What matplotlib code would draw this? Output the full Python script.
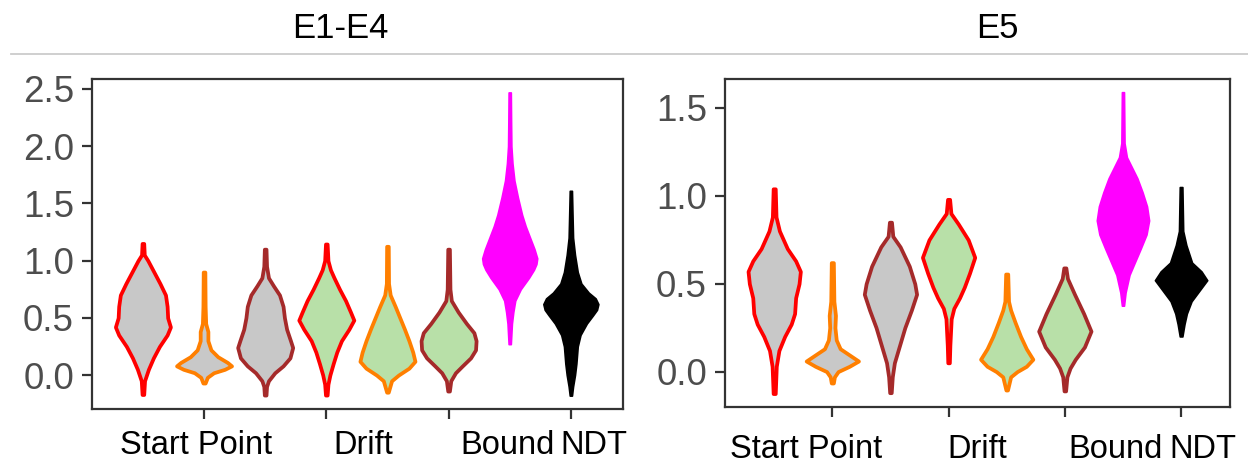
import matplotlib.pyplot as plt
import matplotlib.transforms as mtransforms
from matplotlib.lines import Line2D
import numpy as np

plt.rcParams['font.family'] = ['Liberation Sans', 'DejaVu Sans']

# Panel titles and group labels
titles = ['E1-E4', 'E5']
groups = ['Start Point', 'Drift', 'Bound', 'NDT']
group_ticks = [2, 4, 6, 8]

# one violin per parameter: outline colour / fill colour
edge_colors = ['#FF0000', '#FF7F00', '#A52A2A', '#FF0000', '#FF7F00', '#A52A2A', '#FF00FF', '#000000']
fill_colors = ['#C8C8C8', '#C8C8C8', '#C8C8C8', '#B8E0A8', '#B8E0A8', '#B8E0A8', '#FF00FF', '#000000']

# E1-E4: density profiles (y level, relative width)
e14_levels = [
    [-0.17, -0.05, 0.05, 0.15, 0.25, 0.35, 0.42, 0.5, 0.6, 0.7, 0.8, 0.9, 1.0, 1.05, 1.15],
    [-0.07, -0.02, 0.02, 0.05, 0.08, 0.11, 0.16, 0.22, 0.3, 0.38, 0.45, 0.6, 0.9],
    [-0.175, -0.1, -0.05, 0.02, 0.08, 0.15, 0.24, 0.3, 0.4, 0.5, 0.6, 0.7, 0.78, 0.85, 0.95, 1.1],
    [-0.175, -0.08, 0.0, 0.1, 0.2, 0.3, 0.4, 0.48, 0.55, 0.65, 0.75, 0.85, 0.92, 1.0, 1.145],
    [-0.15, -0.05, 0.0, 0.06, 0.12, 0.2, 0.3, 0.4, 0.5, 0.6, 0.7, 0.8, 1.125],
    [-0.14, -0.05, 0.02, 0.08, 0.15, 0.22, 0.3, 0.37, 0.45, 0.55, 0.65, 0.75, 1.1],
    [0.27, 0.45, 0.55, 0.65, 0.75, 0.85, 0.92, 0.97, 1.02, 1.1, 1.2, 1.3, 1.4, 1.55, 1.7, 1.85, 2.0, 2.2, 2.47],
    [-0.18, -0.1, 0.0, 0.1, 0.25, 0.35, 0.45, 0.52, 0.57, 0.62, 0.67, 0.72, 0.8, 0.9, 1.05, 1.2, 1.4, 1.61],
]
e14_widths = [
    [0.03, 0.06, 0.2, 0.38, 0.6, 0.88, 1.0, 0.9, 0.88, 0.82, 0.62, 0.4, 0.18, 0.05, 0.03],
    [0.04, 0.12, 0.35, 0.75, 1.0, 0.85, 0.5, 0.25, 0.14, 0.14, 0.06, 0.04, 0.03],
    [0.03, 0.05, 0.12, 0.35, 0.65, 0.9, 1.0, 0.92, 0.78, 0.7, 0.65, 0.52, 0.3, 0.12, 0.05, 0.03],
    [0.03, 0.06, 0.13, 0.25, 0.38, 0.55, 0.82, 1.0, 0.88, 0.7, 0.48, 0.28, 0.15, 0.06, 0.03],
    [0.03, 0.15, 0.4, 0.78, 1.0, 0.92, 0.78, 0.62, 0.45, 0.28, 0.1, 0.04, 0.03],
    [0.03, 0.08, 0.25, 0.5, 0.8, 0.98, 1.0, 0.92, 0.65, 0.35, 0.1, 0.05, 0.03],
    [0.04, 0.08, 0.13, 0.2, 0.4, 0.7, 0.88, 0.97, 1.0, 0.9, 0.74, 0.58, 0.45, 0.3, 0.17, 0.1, 0.06, 0.05, 0.04],
    [0.04, 0.08, 0.15, 0.2, 0.25, 0.35, 0.58, 0.8, 0.95, 1.0, 0.9, 0.65, 0.38, 0.25, 0.15, 0.08, 0.06, 0.04],
]

# E5
e5_levels = [
    [-0.125, 0.03, 0.12, 0.2, 0.27, 0.33, 0.42, 0.5, 0.57, 0.63, 0.7, 0.8, 0.88, 1.04],
    [-0.065, -0.03, 0.0, 0.03, 0.06, 0.09, 0.13, 0.18, 0.25, 0.32, 0.4, 0.62],
    [-0.12, -0.03, 0.05, 0.15, 0.25, 0.35, 0.44, 0.5, 0.6, 0.71, 0.77, 0.85],
    [0.05, 0.15, 0.3, 0.36, 0.42, 0.48, 0.56, 0.65, 0.75, 0.84, 0.9, 0.98],
    [-0.105, -0.03, 0.0, 0.03, 0.07, 0.13, 0.2, 0.28, 0.35, 0.4, 0.555],
    [-0.11, -0.03, 0.02, 0.07, 0.14, 0.23, 0.33, 0.44, 0.53, 0.59],
    [0.375, 0.45, 0.55, 0.62, 0.7, 0.78, 0.86, 0.94, 1.02, 1.1, 1.16, 1.22, 1.3, 1.59],
    [0.2, 0.27, 0.33, 0.4, 0.47, 0.52, 0.57, 0.62, 0.72, 0.8, 1.05],
]
e5_widths = [
    [0.04, 0.08, 0.18, 0.4, 0.65, 0.78, 0.82, 0.95, 1.0, 0.82, 0.5, 0.2, 0.07, 0.04],
    [0.04, 0.08, 0.22, 0.65, 1.0, 0.7, 0.3, 0.15, 0.1, 0.12, 0.06, 0.04],
    [0.03, 0.07, 0.15, 0.35, 0.55, 0.8, 1.0, 0.93, 0.72, 0.37, 0.09, 0.04],
    [0.03, 0.05, 0.1, 0.2, 0.42, 0.6, 0.8, 1.0, 0.75, 0.37, 0.09, 0.04],
    [0.03, 0.15, 0.4, 0.75, 1.0, 0.75, 0.53, 0.32, 0.15, 0.07, 0.04],
    [0.03, 0.08, 0.2, 0.4, 0.75, 1.0, 0.72, 0.37, 0.1, 0.04],
    [0.04, 0.1, 0.25, 0.45, 0.68, 0.9, 1.0, 0.92, 0.75, 0.55, 0.35, 0.15, 0.06, 0.04],
    [0.05, 0.13, 0.22, 0.4, 0.75, 1.0, 0.78, 0.42, 0.2, 0.08, 0.05],
]

panels = [
    dict(levels=e14_levels, widths=e14_widths, ylim=(-0.297, 2.587), yticks=[0, 0.5, 1.0, 1.5, 2.0, 2.5],
         xlim=(0.167, 8.853), rect=[0.0737, 0.1316, 0.4255, 0.7006],
         label_x=[1.87, 4.6, 6.97, 8.38], label_y=-0.11, title_x=340 / 1248),
    dict(levels=e5_levels, widths=e5_widths, ylim=(-0.2015, 1.665), yticks=[0, 0.5, 1.0, 1.5],
         xlim=(0.153, 8.84), rect=[0.5809, 0.1359, 0.4046, 0.6964],
         label_x=[1.55, 4.49, 6.88, 8.38], label_y=-0.13, title_x=997 / 1248),
]

fig = plt.figure(figsize=(12.48, 4.71), dpi=100)

for p, title in zip(panels, titles):
    ax = fig.add_axes(p['rect'])
    stats = []
    for lv, wd in zip(p['levels'], p['widths']):
        lv = np.array(lv)
        stats.append(dict(coords=lv, vals=np.array(wd), mean=lv.mean(), median=np.median(lv),
                          min=lv.min(), max=lv.max()))
    parts = ax.violin(stats, positions=np.arange(1, 9), widths=0.9,
                      showmeans=False, showextrema=False, showmedians=False)
    for body, ec, fc in zip(parts['bodies'], edge_colors, fill_colors):
        body.set_facecolor(fc)
        body.set_edgecolor(ec)
        body.set_alpha(1)
        body.set_linewidth(2.7 if ec != fc else 1.2)
        body.set_joinstyle('round')

    ax.set_xlim(*p['xlim'])
    ax.set_ylim(*p['ylim'])
    ax.set_yticks(p['yticks'])
    ax.set_yticklabels([f'{v:.1f}' for v in p['yticks']])
    ax.set_xticks(group_ticks)
    ax.set_xticklabels([])
    for sp in ax.spines.values():
        sp.set_color('#333333')
        sp.set_linewidth(1.6)
    ax.tick_params(axis='both', colors='#333333', width=1.6, length=7)
    ax.tick_params(axis='y', labelsize=26.5, labelcolor='#4D4D4D', pad=6)

    trans = mtransforms.blended_transform_factory(ax.transData, ax.transAxes)
    for lx, g in zip(p['label_x'], groups):
        ax.text(lx, p['label_y'], g, transform=trans, ha='center', va='center',
                fontsize=23.5, color='black')

    fig.text(p['title_x'], 1 - 28 / 471, title, ha='center', va='center', fontsize=25)

# thin gray rule under the titles
fig.add_artist(Line2D([11 / 1248, 1.0], [1 - 54 / 471, 1 - 54 / 471], color='#CCCCCC', linewidth=1.3))

plt.savefig('out.png', dpi=100)
